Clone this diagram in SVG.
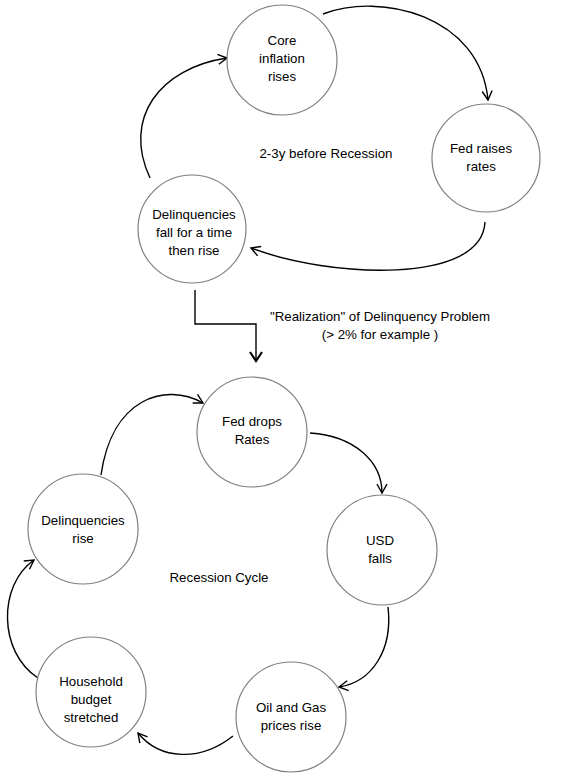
<svg xmlns="http://www.w3.org/2000/svg" width="577" height="781" viewBox="0 0 577 781">
<style>
.node circle{fill:#fff;stroke:#7f7f7f;stroke-width:1.2}
text{font-family:"Liberation Sans",Arial,sans-serif;font-size:13.3px;fill:#000;text-anchor:middle}
.conn path{fill:none;stroke:#000;stroke-width:1.4}
</style>
<defs>
<marker id="ah" markerUnits="userSpaceOnUse" markerWidth="14" markerHeight="14" refX="10" refY="6" orient="auto">
<path d="M1,1 L10,6 L1,11" fill="none" stroke="#000" stroke-width="1.4"/>
</marker>
<marker id="ah2" markerUnits="userSpaceOnUse" markerWidth="16" markerHeight="16" refX="10" refY="7" orient="auto">
<path d="M1,1 L10,7 L1,13" fill="none" stroke="#000" stroke-width="2.2"/>
</marker>
</defs>
<rect width="577" height="781" fill="#fff"/>
<g class="conn" id="connectors">
<path d="M323,14 C380,-8 480,15 488,100" marker-end="url(#ah)"/>
<path d="M485,222 C482,285 330,278 251,248" marker-end="url(#ah)"/>
<path d="M150,178 C122,118 160,68 227,58" marker-end="url(#ah)"/>
<path d="M195,290 L195,324 L256,324 L256,361" stroke-width="2.2" marker-end="url(#ah2)"/>
<path d="M101,475 C112,398 165,382 203,403" marker-end="url(#ah)"/>
<path d="M310,433 C355,436 382,462 382,493" marker-end="url(#ah)"/>
<path d="M388,607 C393,650 372,682 339,687" marker-end="url(#ah)"/>
<path d="M233,736 C200,762 160,760 138,733" marker-end="url(#ah)"/>
<path d="M38,678 C-2,652 -2,585 34,560" marker-end="url(#ah)"/>
</g>
<g class="node" id="core-inflation"><circle cx="282" cy="60" r="55"/><text x="282" y="45">Core</text><text x="282" y="63">inflation</text><text x="282" y="81">rises</text></g>
<g class="node" id="fed-raises"><circle cx="486" cy="158" r="54"/><text x="481" y="153">Fed raises</text><text x="481" y="171">rates</text></g>
<g class="node" id="delinq-fall"><circle cx="192" cy="229" r="54"/><text x="194" y="219">Delinquencies</text><text x="194" y="237">fall for a time</text><text x="194" y="255">then rise</text></g>
<g id="label-top"><text x="326" y="158">2-3y before Recession</text></g>
<g id="label-realization"><text x="380" y="321">"Realization" of Delinquency  Problem</text><text x="380" y="339">(&gt; 2% for example )</text></g>
<g class="node" id="fed-drops"><circle cx="252" cy="432" r="55"/><text x="252" y="426">Fed drops</text><text x="252" y="444">Rates</text></g>
<g class="node" id="usd-falls"><circle cx="382" cy="550" r="55"/><text x="380" y="545">USD</text><text x="380" y="563">falls</text></g>
<g class="node" id="delinq-rise"><circle cx="83" cy="529" r="55"/><text x="83" y="525">Delinquencies</text><text x="83" y="543">rise</text></g>
<g id="label-bottom"><text x="219" y="582">Recession Cycle</text></g>
<g class="node" id="household"><circle cx="91" cy="692" r="55"/><text x="91" y="686">Household</text><text x="91" y="704">budget</text><text x="91" y="722">stretched</text></g>
<g class="node" id="oil-gas"><circle cx="291" cy="717" r="55"/><text x="291" y="712">Oil and Gas</text><text x="291" y="730">prices rise</text></g>
</svg>
